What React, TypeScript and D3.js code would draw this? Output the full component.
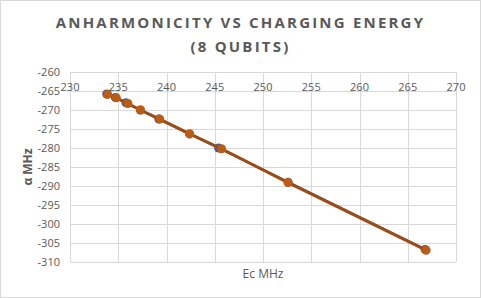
import { useEffect, useRef } from 'react';
import * as d3 from 'd3';

// Ec (MHz) vs anharmonicity (MHz), two series nearly overlapping
const ecMeasured = [233.8, 234.7, 235.8, 237.3, 239.2, 242.4, 245.4, 252.6, 266.8];
const alphaMeasured = [-265.8, -266.7, -268.1, -270.0, -272.4, -276.3, -280.0, -289.0, -306.7];
const ecFit = [233.9, 234.8, 236.0, 237.3, 239.3, 242.4, 245.7, 252.6, 266.9];
const alphaFit = [-265.9, -266.8, -268.3, -270.0, -272.4, -276.3, -280.2, -289.1, -306.9];

const xTicks = [230, 235, 240, 245, 250, 255, 260, 265, 270];
const yTicks = [-260, -265, -270, -275, -280, -285, -290, -295, -300, -305, -310];

export default function App() {
  const svgRef = useRef<SVGSVGElement | null>(null);

  useEffect(() => {
    if (!svgRef.current) return;
    const svg = d3.select(svgRef.current);
    svg.selectAll('*').remove();

    const width = 481;
    const height = 298;
    const margin = { top: 72, right: 25, bottom: 36, left: 70 };

    const x = d3.scaleLinear().domain([230, 270]).range([margin.left, width - margin.right]);
    const y = d3.scaleLinear().domain([-260, -310]).range([margin.top, height - margin.bottom]);

    // background + border
    svg.append('rect')
      .attr('x', 0.5).attr('y', 0.5)
      .attr('width', width - 1).attr('height', height - 1)
      .attr('fill', '#fff').attr('stroke', '#d9d9d9');

    // title
    const title = svg.append('text')
      .attr('text-anchor', 'middle')
      .attr('fill', '#595959')
      .style('font-family', '"Open Sans", sans-serif')
      .style('font-weight', 'bold')
      .style('font-size', '15px')
      .style('letter-spacing', '2.2px');
    title.append('tspan').attr('x', width / 2).attr('y', 28).text('ANHARMONICITY VS CHARGING ENERGY');
    title.append('tspan').attr('x', width / 2).attr('y', 52).text('(8 QUBITS)');

    // gridlines
    const grid = svg.append('g').attr('stroke', '#d9d9d9').attr('stroke-width', 1);
    grid.selectAll('line.h')
      .data(yTicks)
      .enter()
      .append('line')
      .attr('x1', x(230)).attr('x2', x(270))
      .attr('y1', d => Math.round(y(d)) + 0.5).attr('y2', d => Math.round(y(d)) + 0.5);
    grid.selectAll('line.v')
      .data(xTicks)
      .enter()
      .append('line')
      .attr('x1', d => Math.round(x(d)) + 0.5).attr('x2', d => Math.round(x(d)) + 0.5)
      .attr('y1', y(-260)).attr('y2', y(-310));

    // axes labels
    const axisFont = '"Open Sans", sans-serif';
    svg.append('g')
      .selectAll('text')
      .data(yTicks)
      .enter()
      .append('text')
      .attr('x', margin.left - 10)
      .attr('y', d => y(d))
      .attr('dy', '0.35em')
      .attr('text-anchor', 'end')
      .attr('fill', '#595959')
      .style('font-family', axisFont)
      .style('font-size', '11px')
      .text(d => d);

    svg.append('g')
      .selectAll('text')
      .data(xTicks)
      .enter()
      .append('text')
      .attr('x', d => x(d))
      .attr('y', y(-260) + 15)
      .attr('dy', '0.35em')
      .attr('text-anchor', 'middle')
      .attr('fill', '#595959')
      .style('font-family', axisFont)
      .style('font-size', '11px')
      .text(d => d);

    svg.append('text')
      .attr('transform', `translate(28,${(y(-260) + y(-310)) / 2}) rotate(-90)`)
      .attr('text-anchor', 'middle')
      .attr('dy', '0.35em')
      .attr('fill', '#595959')
      .style('font-family', axisFont)
      .style('font-weight', 'bold')
      .style('font-size', '12px')
      .text('α MHz');

    svg.append('text')
      .attr('x', (x(230) + x(270)) / 2)
      .attr('y', height - 24)
      .attr('dy', '0.35em')
      .attr('text-anchor', 'middle')
      .attr('fill', '#595959')
      .style('font-family', axisFont)
      .style('font-size', '12px')
      .text('Ec MHz');

    // measured series (blue, underneath)
    const measured = ecMeasured.map((v, i) => [v, alphaMeasured[i]] as [number, number]);
    const fit = ecFit.map((v, i) => [v, alphaFit[i]] as [number, number]);
    const line = d3.line<[number, number]>().x(d => x(d[0])).y(d => y(d[1]));

    svg.append('path')
      .datum(measured)
      .attr('d', line)
      .attr('fill', 'none')
      .attr('stroke', '#3f5f96')
      .attr('stroke-width', 2.5);
    svg.append('g')
      .selectAll('circle')
      .data(measured)
      .enter()
      .append('circle')
      .attr('cx', d => x(d[0])).attr('cy', d => y(d[1]))
      .attr('r', 4.5)
      .attr('fill', '#3f5f96');

    // fit series (orange, on top)
    svg.append('path')
      .datum(fit)
      .attr('d', line)
      .attr('fill', 'none')
      .attr('stroke', '#9e4c14')
      .attr('stroke-width', 3);
    svg.append('g')
      .selectAll('circle')
      .data(fit)
      .enter()
      .append('circle')
      .attr('cx', d => x(d[0])).attr('cy', d => y(d[1]))
      .attr('r', 4.5)
      .attr('fill', '#bc5c12');
  }, []);

  return (
    <svg
      ref={svgRef}
      width={481}
      height={298}
      style={{ position: 'fixed', left: 0, top: 0, display: 'block' }}
    />
  );
}
